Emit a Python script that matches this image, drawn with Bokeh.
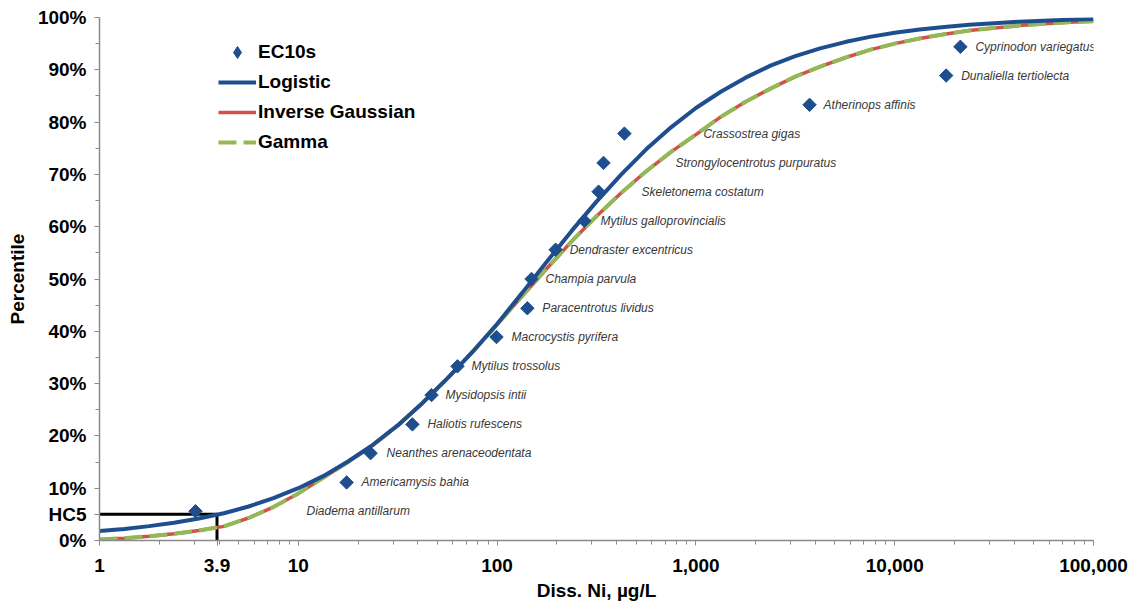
import math
from bokeh.plotting import figure
from bokeh.models import (ColumnDataSource, FixedTicker, CustomJSTickFormatter,
                          Legend, LegendItem, Range1d)
from bokeh.embed import file_html
from bokeh.resources import INLINE
from bokeh.core.properties import value

# ---------------- data ----------------
species = ["Diadema antillarum", "Americamysis bahia", "Neanthes arenaceodentata",
           "Haliotis rufescens", "Mysidopsis intii", "Mytilus trossolus",
           "Macrocystis pyrifera", "Paracentrotus lividus", "Champia parvula",
           "Dendraster excentricus", "Mytilus galloprovincialis", "Skeletonema costatum",
           "Strongylocentrotus purpuratus", "Crassostrea gigas", "Atherinops affinis",
           "Dunaliella tertiolecta", "Cyprinodon variegatus"]
ec10 = [3.04, 17.5, 23.1, 37.5, 46.8, 63.2, 99.3, 142, 149, 197, 275, 324, 343,
        437, 3730, 18150, 21400]
percentile = [5.6, 11.1, 16.7, 22.2, 27.8, 33.3, 38.9, 44.4, 50.0, 55.6, 61.1,
              66.7, 72.2, 77.8, 83.3, 88.9, 94.4]

curve_conc = [1, 1.334, 1.778, 2.371, 3.162, 4.217, 5.623, 7.499,
              10, 13.34, 17.78, 23.71, 31.62, 42.17, 56.23, 74.99,
              100, 133.4, 177.8, 237.1, 316.2, 421.7, 562.3, 749.9,
              1000, 1334, 1778, 2371, 3162, 4217, 5623, 7499,
              10000, 13340, 17780, 23710, 31620, 42170, 56230, 74990, 100000]
logistic_pct = [1.8, 2.2, 2.75, 3.4, 4.2, 5.2, 6.5, 8.1,
                10.0, 12.3, 15.1, 18.3, 22.0, 26.3, 31.0, 36.0,
                41.4, 47.3, 53.3, 59.2, 64.8, 70.0, 74.8, 79.0,
                82.7, 85.8, 88.5, 90.8, 92.6, 94.1, 95.3, 96.3,
                97.1, 97.7, 98.2, 98.6, 98.9, 99.2, 99.4, 99.55, 99.7]
inv_gauss_pct = [0.2, 0.45, 0.8, 1.3, 1.9, 2.7, 4.3, 6.4,
                 9.0, 12.0, 15.0, 18.2, 22.0, 26.3, 31.0, 36.0,
                 41.3, 46.7, 52.0, 57.2, 62.0, 66.5, 70.6, 74.3,
                 77.6, 81.0, 83.9, 86.4, 88.7, 90.6, 92.3, 93.8,
                 95.0, 96.0, 96.8, 97.5, 98.0, 98.45, 98.8, 99.1, 99.3]
gamma_pct = [0.2, 0.45, 0.8, 1.3, 1.9, 2.7, 4.3, 6.4,
             9.0, 12.0, 15.0, 18.2, 22.0, 26.3, 31.0, 36.0,
             41.3, 46.7, 52.0, 57.2, 62.0, 66.5, 70.6, 74.3,
             77.6, 81.0, 83.9, 86.4, 88.7, 90.6, 92.3, 93.8,
             95.0, 96.0, 96.8, 97.5, 98.0, 98.45, 98.8, 99.1, 99.3]

hc5_conc = 3.9
hc5_pct = 5

x_major = [1, hc5_conc, 10, 100, 1000, 10000, 100000]
y_major = [0, hc5_pct, 10, 20, 30, 40, 50, 60, 70, 80, 90, 100]
y_minor = [15, 25, 35, 45, 55, 65, 75, 85, 95]

# ---------------- style (pixel offsets of species labels) ----------------
label_dx = [111, 15, 16, 15, 14, 14, 15, 15, 14, 14, 16, 43, 72, 79, 14, 15, 15]

BLUE = "#1F4E8F"
RED = "#D4504C"
GREEN = "#93B957"
FONT = "Liberation Sans"

p = figure(x_axis_type="log", width=1135, height=605,
           x_range=Range1d(1, 100000), y_range=Range1d(0, 100),
           output_backend="svg", toolbar_location=None,
           min_border_left=99, min_border_right=42, min_border_top=17,
           min_border_bottom=65)
p.outline_line_color = None
p.xgrid.visible = False
p.ygrid.visible = False
p.background_fill_color = "white"

x_minor = [m * d for d in [1, 10, 100, 1000, 10000] for m in range(2, 10)]
p.xaxis.ticker = FixedTicker(ticks=x_major, minor_ticks=x_minor)
p.yaxis.ticker = FixedTicker(ticks=y_major, minor_ticks=y_minor)
p.xaxis.formatter = CustomJSTickFormatter(code="return tick.toLocaleString('en-US');")
p.yaxis.formatter = CustomJSTickFormatter(args=dict(h=hc5_pct),
                                          code="return tick == h ? 'HC5' : tick + '%';")

for ax in (p.xaxis, p.yaxis):
    ax.axis_line_color = "#8a8a8a"
    ax.axis_line_width = 1.5
    ax.major_tick_line_color = "#8a8a8a"
    ax.minor_tick_line_color = "#8a8a8a"
    ax.major_tick_in = 0
    ax.major_tick_out = 5
    ax.minor_tick_in = 0
    ax.minor_tick_out = 4
    ax.major_label_text_font = FONT
    ax.major_label_text_font_style = "bold"
    ax.major_label_text_font_size = "19px"
    ax.major_label_text_color = "black"
    ax.axis_label_text_font = FONT
    ax.axis_label_text_font_style = "bold"
    ax.axis_label_text_font_size = "19px"
    ax.axis_label_text_color = "black"

p.xaxis.axis_label = "Diss. Ni, µg/L"
p.yaxis.axis_label = "Percentile"
p.xaxis.major_label_standoff = 13
p.xaxis.axis_label_standoff = 5
p.yaxis.major_label_standoff = 8
p.yaxis.axis_label_standoff = 7

# HC5 marker lines
p.line([curve_conc[0], hc5_conc, hc5_conc], [hc5_pct, hc5_pct, 0],
       line_color="black", line_width=3)

curves = ColumnDataSource(dict(x=curve_conc, lg=logistic_pct, ig=inv_gauss_pct, gm=gamma_pct))
r_ig = p.line("x", "ig", source=curves, line_color=RED, line_width=3.5)
r_gm = p.line("x", "gm", source=curves, line_color=GREEN, line_width=4,
              line_dash="18 7")
r_lg = p.line("x", "lg", source=curves, line_color=BLUE, line_width=4)

pts = ColumnDataSource(dict(x=ec10, y=percentile, name=species, dx=label_dx))
# small diamond underneath (gives the legend its diamond symbol)
r_leg = p.scatter("x", "y", source=pts, marker="diamond", size=8,
                  fill_color=BLUE, line_color=BLUE)
p.scatter("x", "y", source=pts, marker="square", size=9.5, angle=math.pi / 4,
          fill_color=BLUE, line_color=BLUE)
p.text("x", "y", text="name", x_offset="dx", source=pts,
       text_font=value(FONT), text_font_style="italic", text_font_size="12px",
       text_color="#383838", text_baseline="middle", text_align="left")

legend = Legend(items=[LegendItem(label="EC10s", renderers=[r_leg]),
                       LegendItem(label="Logistic", renderers=[r_lg]),
                       LegendItem(label="Inverse Gaussian", renderers=[r_ig]),
                       LegendItem(label="Gamma", renderers=[r_gm])],
                location=(119, 383))
legend.background_fill_alpha = 0
legend.border_line_color = None
legend.padding = 0
legend.margin = 0
legend.spacing = 0
legend.glyph_width = 38
legend.glyph_height = 30
legend.label_height = 30
legend.label_standoff = 2
legend.label_text_font = FONT
legend.label_text_font_style = "bold"
legend.label_text_font_size = "19px"
legend.label_text_color = "black"
p.add_layout(legend, "center")

open("out.html", "w").write(file_html(p, INLINE))
